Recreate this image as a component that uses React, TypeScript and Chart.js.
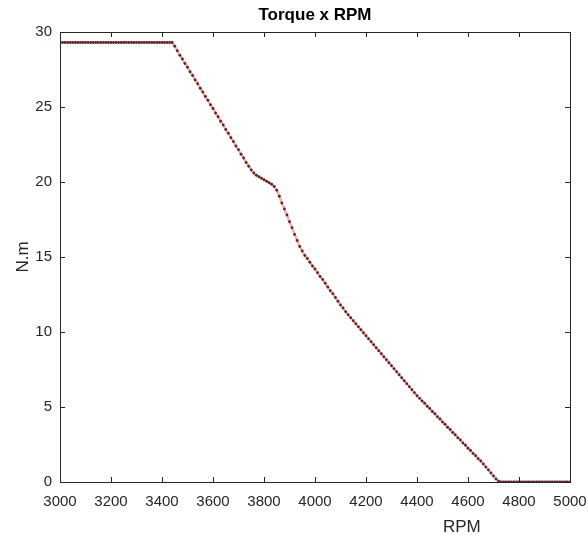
import React, { useEffect, useRef } from "react";
import { Chart, registerables } from "chart.js";

Chart.register(...registerables);

const TITLE = "Torque x RPM";
const X_LABEL = "RPM";
const Y_LABEL = "N.m";
const X_TICKS = [3000, 3200, 3400, 3600, 3800, 4000, 4200, 4400, 4600, 4800, 5000];
const Y_TICKS = [0, 5, 10, 15, 20, 25, 30];

const rpm = [
  3000, 3010, 3020, 3030, 3040, 3050, 3060, 3070, 3080, 3090,
  3100, 3110, 3120, 3130, 3140, 3150, 3160, 3170, 3180, 3190,
  3200, 3210, 3220, 3230, 3240, 3250, 3260, 3270, 3280, 3290,
  3300, 3310, 3320, 3330, 3340, 3350, 3360, 3370, 3380, 3390,
  3400, 3410, 3420, 3430, 3440, 3450, 3460, 3470, 3480, 3490,
  3500, 3510, 3520, 3530, 3540, 3550, 3560, 3570, 3580, 3590,
  3600, 3610, 3620, 3630, 3640, 3650, 3660, 3670, 3680, 3690,
  3700, 3710, 3720, 3730, 3740, 3750, 3760, 3770, 3780, 3790,
  3800, 3810, 3820, 3830, 3840, 3850, 3860, 3870, 3880, 3890,
  3900, 3910, 3920, 3930, 3940, 3950, 3960, 3970, 3980, 3990,
  4000, 4010, 4020, 4030, 4040, 4050, 4060, 4070, 4080, 4090,
  4100, 4110, 4120, 4130, 4140, 4150, 4160, 4170, 4180, 4190,
  4200, 4210, 4220, 4230, 4240, 4250, 4260, 4270, 4280, 4290,
  4300, 4310, 4320, 4330, 4340, 4350, 4360, 4370, 4380, 4390,
  4400, 4410, 4420, 4430, 4440, 4450, 4460, 4470, 4480, 4490,
  4500, 4510, 4520, 4530, 4540, 4550, 4560, 4570, 4580, 4590,
  4600, 4610, 4620, 4630, 4640, 4650, 4660, 4670, 4680, 4690,
  4700, 4710, 4720, 4730, 4740, 4750, 4760, 4770, 4780, 4790,
  4800, 4810, 4820, 4830, 4840, 4850, 4860, 4870, 4880, 4890,
  4900, 4910, 4920, 4930, 4940, 4950, 4960, 4970, 4980, 4990,
  5000,
];

const torque = [
  29.3, 29.3, 29.3, 29.3, 29.3, 29.3, 29.3, 29.3, 29.3, 29.3,
  29.3, 29.3, 29.3, 29.3, 29.3, 29.3, 29.3, 29.3, 29.3, 29.3,
  29.3, 29.3, 29.3, 29.3, 29.3, 29.3, 29.3, 29.3, 29.3, 29.3,
  29.3, 29.3, 29.3, 29.3, 29.3, 29.3, 29.3, 29.3, 29.3, 29.3,
  29.3, 29.3, 29.3, 29.3, 29.3, 29.05, 28.75, 28.45, 28.2, 27.9,
  27.65, 27.35, 27.1, 26.8, 26.55, 26.25, 26.0, 25.7, 25.45, 25.15,
  24.9, 24.6, 24.35, 24.05, 23.8, 23.5, 23.25, 22.95, 22.7, 22.4,
  22.15, 21.85, 21.6, 21.3, 21.05, 20.8, 20.6, 20.45, 20.35, 20.25,
  20.15, 20.05, 19.95, 19.85, 19.7, 19.45, 19.05, 18.6, 18.2, 17.8,
  17.35, 16.95, 16.5, 16.1, 15.7, 15.4, 15.1, 14.9, 14.65, 14.4,
  14.2, 13.95, 13.7, 13.5, 13.25, 13.0, 12.75, 12.55, 12.3, 12.05,
  11.8, 11.6, 11.35, 11.15, 10.95, 10.75, 10.55, 10.35, 10.15, 9.95,
  9.75, 9.55, 9.35, 9.15, 8.95, 8.75, 8.55, 8.35, 8.15, 7.95,
  7.75, 7.55, 7.35, 7.15, 6.95, 6.75, 6.55, 6.35, 6.15, 5.95,
  5.75, 5.58, 5.4, 5.25, 5.05, 4.9, 4.7, 4.55, 4.35, 4.2,
  4.0, 3.85, 3.65, 3.5, 3.3, 3.15, 2.95, 2.8, 2.6, 2.45,
  2.25, 2.1, 1.9, 1.75, 1.55, 1.4, 1.2, 1.0, 0.8, 0.6,
  0.4, 0.2, 0.05, 0, 0, 0, 0, 0, 0, 0,
  0, 0, 0, 0, 0, 0, 0, 0, 0, 0,
  0, 0, 0, 0, 0, 0, 0, 0, 0, 0,
  0,
];

const FONT = "'Liberation Sans', Arial, sans-serif";
const AXIS_COLOR = "#262626";

const framePlugin = {
  id: "matlabFrame",
  afterDraw(chart: any) {
    const { ctx, chartArea } = chart;
    const { left, right, top, bottom } = chartArea;
    const xs = chart.scales.x;
    const ys = chart.scales.y;
    ctx.save();
    ctx.strokeStyle = AXIS_COLOR;
    ctx.lineWidth = 1;
    ctx.strokeRect(Math.round(left) + 0.5, Math.round(top) + 0.5, Math.round(right - left), Math.round(bottom - top));
    const tl = 5;
    ctx.beginPath();
    X_TICKS.forEach((v) => {
      const px = Math.round(xs.getPixelForValue(v)) + 0.5;
      ctx.moveTo(px, bottom);
      ctx.lineTo(px, bottom - tl);
      ctx.moveTo(px, top);
      ctx.lineTo(px, top + tl);
    });
    Y_TICKS.forEach((v) => {
      const py = Math.round(ys.getPixelForValue(v)) + 0.5;
      ctx.moveTo(left, py);
      ctx.lineTo(left + tl, py);
      ctx.moveTo(right, py);
      ctx.lineTo(right - tl, py);
    });
    ctx.stroke();

    ctx.fillStyle = "#000";
    ctx.font = `bold 17px ${FONT}`;
    ctx.textAlign = "center";
    ctx.textBaseline = "middle";
    ctx.fillText(TITLE, (left + right) / 2, 15);

    ctx.fillStyle = AXIS_COLOR;
    ctx.font = `17px ${FONT}`;
    ctx.fillText(X_LABEL, left + (right - left) * 0.788, 527);

    ctx.translate(23, (top + bottom) / 2);
    ctx.rotate(-Math.PI / 2);
    ctx.fillText(Y_LABEL, 0, 0);
    ctx.restore();
  },
};

export default function App() {
  const ref = useRef<HTMLCanvasElement>(null);
  useEffect(() => {
    if (!ref.current) return;
    const chart = new Chart(ref.current, {
      type: "scatter",
      data: {
        datasets: [
          {
            data: rpm.map((x, i) => ({ x, y: torque[i] })),
            showLine: true,
            borderColor: "rgba(235, 80, 80, 0.45)",
            borderWidth: 2.5,
            pointRadius: 1.4,
            pointBorderWidth: 0,
            pointBackgroundColor: "#5e2626",
          },
        ],
      },
      options: {
        animation: false,
        responsive: true,
        maintainAspectRatio: false,
        layout: { padding: { top: 32, right: 18, left: 0, bottom: 0 } },
        plugins: { legend: { display: false }, tooltip: { enabled: false }, title: { display: false } },
        scales: {
          x: {
            type: "linear",
            min: 3000,
            max: 5000,
            afterBuildTicks: (s: any) => {
              s.ticks = X_TICKS.map((v) => ({ value: v }));
            },
            afterFit: (s: any) => {
              s.height = 59;
              s.paddingLeft = 0;
              s.paddingRight = 0;
            },
            grid: { display: false, drawTicks: false },
            border: { display: false },
            ticks: {
              color: AXIS_COLOR,
              font: { family: FONT, size: 15 },
              padding: 11,
              maxRotation: 0,
              autoSkip: false,
              callback: (v: any) => String(v),
            },
          },
          y: {
            type: "linear",
            min: 0,
            max: 30,
            afterBuildTicks: (s: any) => {
              s.ticks = Y_TICKS.map((v) => ({ value: v }));
            },
            afterFit: (s: any) => {
              s.width = 60;
              s.paddingTop = 0;
              s.paddingBottom = 0;
            },
            grid: { display: false, drawTicks: false },
            border: { display: false },
            ticks: {
              color: AXIS_COLOR,
              font: { family: FONT, size: 15 },
              padding: 8,
              autoSkip: false,
              callback: (v: any) => String(v),
            },
          },
        },
      },
      plugins: [framePlugin],
    });
    return () => chart.destroy();
  }, []);
  return (
    <div style={{ position: "fixed", left: 0, top: 0, width: 588, height: 541, background: "#fff" }}>
      <canvas ref={ref} />
    </div>
  );
}
